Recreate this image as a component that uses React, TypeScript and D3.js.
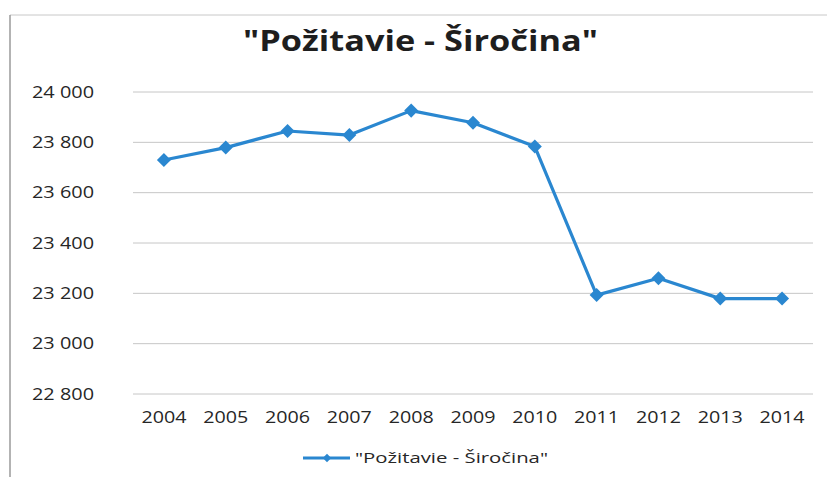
import { useMemo } from "react";
import * as d3 from "d3";

const W = 827;
const H = 477;

const TITLE = "\"Požitavie - Širočina\"";
const SERIES_NAME = "\"Požitavie - Širočina\"";
const YEARS = ["2004", "2005", "2006", "2007", "2008", "2009", "2010", "2011", "2012", "2013", "2014"];
const VALUES = [23730, 23779, 23845, 23829, 23926, 23878, 23783, 23193, 23260, 23179, 23179];
const Y_TICKS = [22800, 23000, 23200, 23400, 23600, 23800, 24000];

const LINE_COLOR = "#2a87d0";
const FONT = "'Open Sans', 'Noto Sans', sans-serif";

// plot area
const margin = { top: 92, right: 14, bottom: 83, left: 133 };

const fmt = (v: number) => {
  const s = String(v);
  return s.slice(0, s.length - 3) + " " + s.slice(-3);
};

export default function App() {
  const { x, y, linePath } = useMemo(() => {
    const x = d3.scaleBand<string>()
      .domain(YEARS)
      .range([margin.left, W - margin.right])
      .paddingInner(0)
      .paddingOuter(0);
    const y = d3.scaleLinear()
      .domain([22800, 24000])
      .range([H - margin.bottom, margin.top]);
    const line = d3.line<number>()
      .x((_, i) => (x(YEARS[i]) ?? 0) + x.bandwidth() / 2)
      .y(d => y(d));
    return { x, y, linePath: line(VALUES) ?? "" };
  }, []);

  const diamond = d3.symbol().type(d3.symbolDiamond2).size(125)() ?? "";
  const legendDiamond = d3.symbol().type(d3.symbolDiamond2).size(45)() ?? "";
  const cx = (i: number) => (x(YEARS[i]) ?? 0) + x.bandwidth() / 2;

  return (
    <div style={{ position: "fixed", left: 0, top: 0 }}>
      <svg width={W} height={H} style={{ display: "block", background: "#fff" }}>
        {/* frame edges from the scan */}
        <line x1={10} x2={W} y1={15} y2={15} stroke="#c8c8c8" strokeWidth={1} />
        <line x1={10} x2={10} y1={15} y2={H} stroke="#9a9a9a" strokeWidth={1.5} />

        <text
          x={243}
          y={51}
          textLength={355}
          lengthAdjust="spacingAndGlyphs"
          fontFamily={FONT}
          fontWeight={700}
          fontSize={29}
          fill="#1e1e1e"
        >
          {TITLE}
        </text>

        {/* grid + y labels */}
        {Y_TICKS.map(t => (
          <g key={t}>
            <line
              x1={margin.left}
              x2={W - margin.right}
              y1={y(t)}
              y2={y(t)}
              stroke="#c6c6c6"
              strokeWidth={1}
            />
            <text
              x={32}
              y={y(t)}
              dy="0.36em"
              textLength={62}
              lengthAdjust="spacingAndGlyphs"
              fontFamily={FONT}
              fontSize={15.5}
              fill="#262626"
            >
              {fmt(t)}
            </text>
          </g>
        ))}

        {/* x labels */}
        {YEARS.map((yr, i) => (
          <text
            key={yr}
            x={cx(i) - 22.5}
            y={423}
            textLength={45}
            lengthAdjust="spacingAndGlyphs"
            fontFamily={FONT}
            fontSize={15.5}
            fill="#262626"
          >
            {yr}
          </text>
        ))}

        <path d={linePath} fill="none" stroke={LINE_COLOR} strokeWidth={3.2} strokeLinejoin="round" />
        {VALUES.map((v, i) => (
          <path
            key={YEARS[i]}
            d={diamond}
            transform={`translate(${cx(i)},${y(v)})`}
            fill={LINE_COLOR}
          />
        ))}

        {/* legend */}
        <line x1={303} x2={350} y1={458} y2={458} stroke={LINE_COLOR} strokeWidth={3} />
        <path d={legendDiamond} transform="translate(327,458)" fill={LINE_COLOR} />
        <text
          x={355}
          y={463}
          textLength={193}
          lengthAdjust="spacingAndGlyphs"
          fontFamily={FONT}
          fontSize={15}
          fill="#262626"
        >
          {SERIES_NAME}
        </text>
      </svg>
    </div>
  );
}
